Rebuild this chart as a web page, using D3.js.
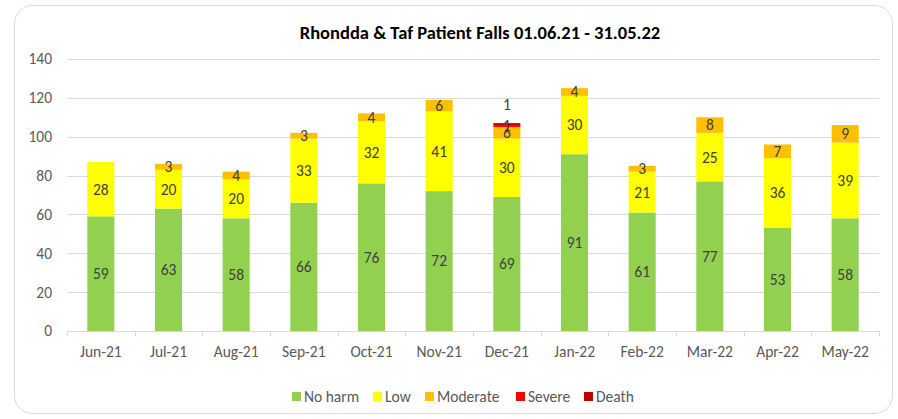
<!DOCTYPE html>
<html><head><meta charset="utf-8">
<script src="https://cdn.jsdelivr.net/npm/d3@7"></script>
<style>body{margin:0;background:#fff;font-family:Calibri,Carlito,Lato,"Open Sans",sans-serif;}</style>
</head><body><svg id="c" width="898" height="419"></svg>
<script>
const categories=["Jun-21","Jul-21","Aug-21","Sep-21","Oct-21","Nov-21","Dec-21","Jan-22","Feb-22","Mar-22","Apr-22","May-22"];
const noHarm=[59,63,58,66,76,72,69,91,61,77,53,58];
const low=[28,20,20,33,32,41,30,30,21,25,36,39];
const moderate=[0,3,4,3,4,6,6,4,3,8,7,9];
const severe=[0,0,0,0,0,0,1,0,0,0,0,0];
const death=[0,0,0,0,0,0,1,0,0,0,0,0];
const seriesNames=["No harm","Low","Moderate","Severe","Death"];
const colors=["#92D050","#FFFF00","#FFC000","#FF0000","#C00000"];
const yTicks=[0,20,40,60,80,100,120,140];
const title="Rhondda & Taf Patient Falls 01.06.21 - 31.05.22";

const FS=15.5;
const svg=d3.select("#c");
svg.append("rect").attr("x",14.5).attr("y",5.5).attr("width",878).attr("height",408).attr("rx",18)
  .attr("fill","#fff").attr("stroke","#d9d9d9").attr("stroke-width",1);

const m={l:67,r:879,t:59,b:331};
const x=d3.scaleBand().domain(categories).range([m.l,m.r]).paddingInner(0.6).paddingOuter(0.3);
const y=d3.scaleLinear().domain([0,140]).range([m.b,m.t]);

const g=svg.append("g");
g.selectAll(".grid").data(yTicks.slice(1)).join("line").attr("x1",m.l).attr("x2",m.r)
  .attr("y1",d=>Math.round(y(d))+0.5).attr("y2",d=>Math.round(y(d))+0.5).attr("stroke","#d9d9d9");
g.selectAll(".yl").data(yTicks).join("text").attr("x",m.l-15).attr("y",d=>y(d)).attr("dy","0.35em")
  .attr("text-anchor","end").attr("font-size",FS).attr("fill","#595959").text(d=>d);

const data=categories.map((c,i)=>({cat:c,v:[noHarm[i],low[i],moderate[i],severe[i],death[i]]}));
const stack=d3.stack().keys([0,1,2,3,4]).value((d,k)=>d.v[k])(data);

stack.forEach((s,k)=>{
  g.selectAll(".s"+k).data(s).join("rect").attr("x",d=>x(d.data.cat)).attr("width",x.bandwidth())
    .attr("y",d=>y(d[1])).attr("height",d=>y(d[0])-y(d[1])).attr("fill",colors[k]);
});
stack.forEach((s,k)=>{
  g.selectAll(".l"+k).data(s.filter(d=>d[1]-d[0]>0)).join("text")
    .attr("x",d=>x(d.data.cat)+x.bandwidth()/2)
    .attr("y",d=>k===4?y(d[1])-19:(y(d[0])+y(d[1]))/2)
    .attr("dy","0.35em").attr("text-anchor","middle").attr("font-size",FS).attr("fill","#404040")
    .text(d=>d[1]-d[0]);
});

// x axis
g.append("line").attr("x1",m.l).attr("x2",m.r).attr("y1",m.b+0.5).attr("y2",m.b+0.5).attr("stroke","#d9d9d9");
const bounds=d3.range(categories.length+1).map(i=>m.l+i*(m.r-m.l)/categories.length);
g.selectAll(".tk").data(bounds).join("line").attr("x1",d=>Math.round(d)+0.5).attr("x2",d=>Math.round(d)+0.5)
  .attr("y1",m.b).attr("y2",m.b+5).attr("stroke","#d9d9d9");
g.selectAll(".xl").data(categories).join("text").attr("x",d=>x(d)+x.bandwidth()/2).attr("y",352)
  .attr("dy","0.35em").attr("text-anchor","middle").attr("font-size",FS).attr("fill","#595959").text(d=>d);

svg.append("text").attr("x",480).attr("y",33).attr("dy","0.35em").attr("text-anchor","middle").attr("font-size",18.5)
  .attr("font-weight","bold").attr("fill","#000").text(title);

// legend
const lx=[292,373,425,516,584];
const lg=svg.append("g");
seriesNames.forEach((n,i)=>{
  lg.append("rect").attr("x",lx[i]).attr("y",392).attr("width",9).attr("height",9).attr("fill",colors[i]);
  lg.append("text").attr("x",lx[i]+12).attr("y",397).attr("dy","0.35em").attr("font-size",FS).attr("fill","#595959").text(n);
});
</script></body></html>
